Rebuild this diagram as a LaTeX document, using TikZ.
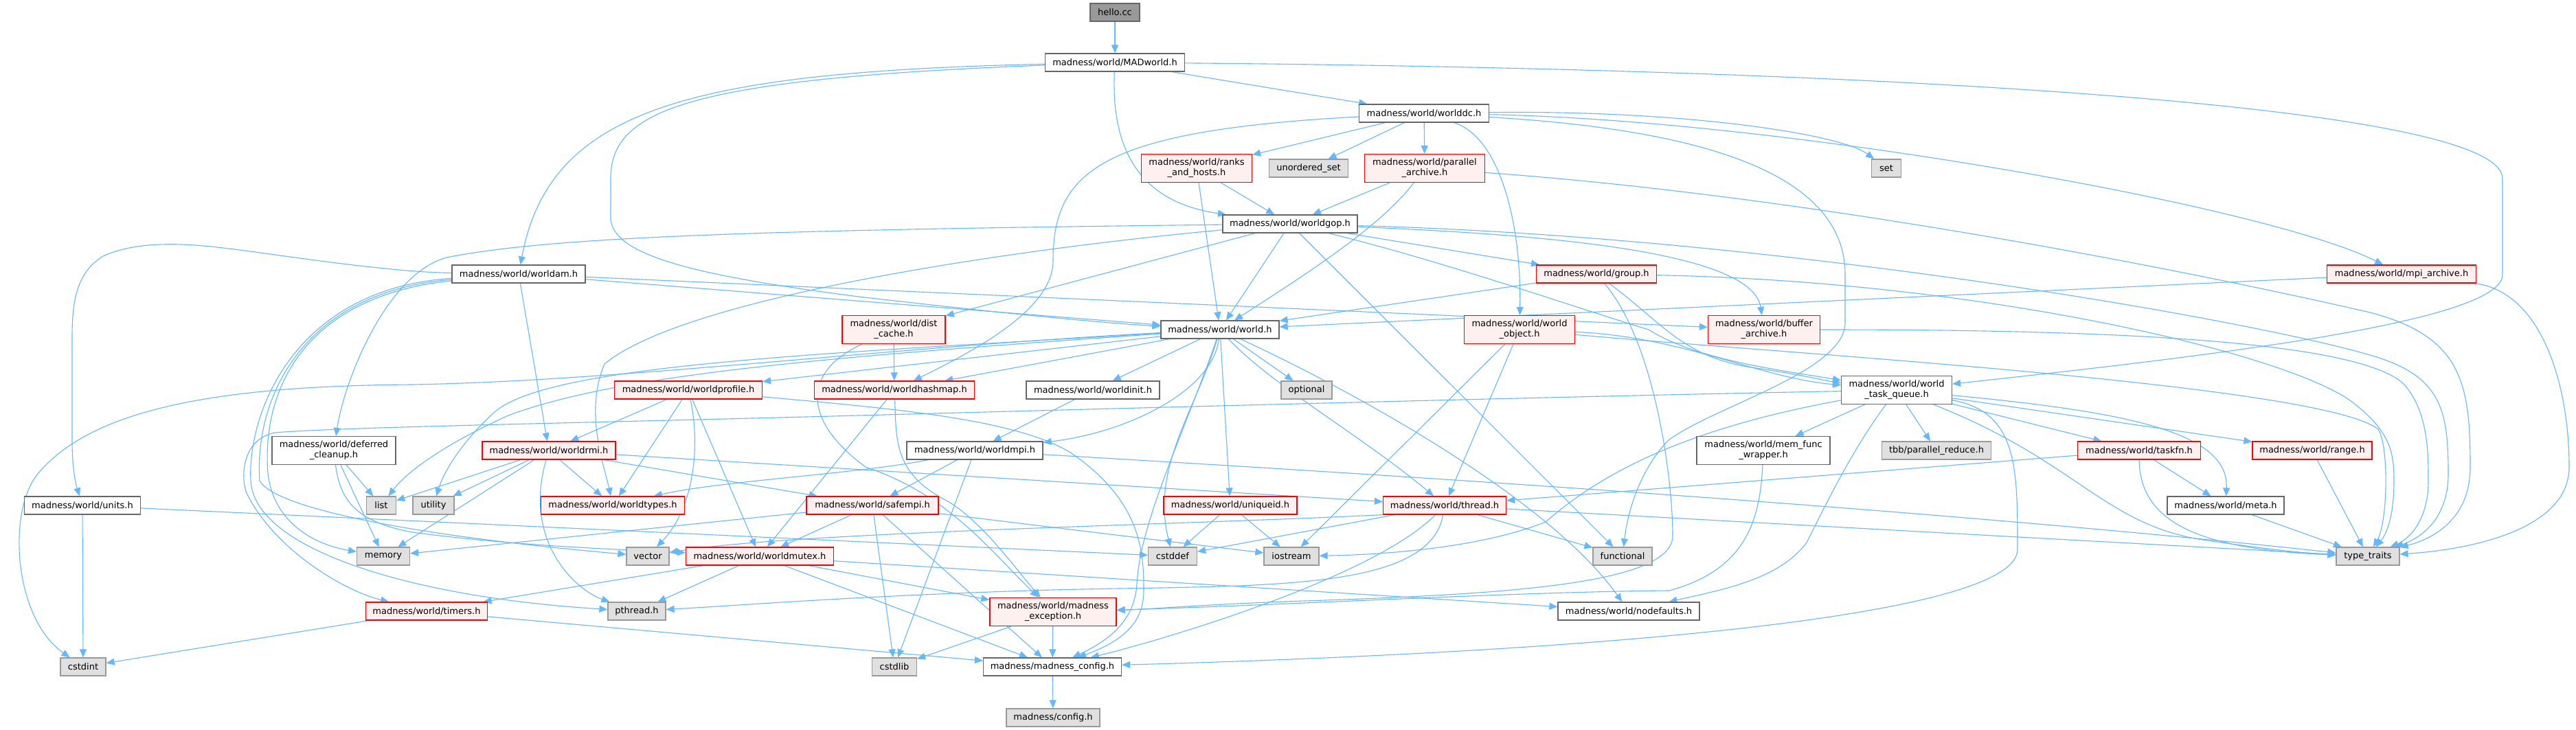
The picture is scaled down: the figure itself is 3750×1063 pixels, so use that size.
\documentclass[tikz,border=0pt]{standalone}
\usepackage{fontspec}
\setmainfont{DejaVu Sans}
\usetikzlibrary{arrows.meta}
\pgfdeclarelayer{bg}
\pgfsetlayers{bg,main}
\definecolor{edgec}{HTML}{63B8FF}
\definecolor{gborder}{HTML}{666666}
\definecolor{xfill}{HTML}{E0E0E0}
\definecolor{xborder}{HTML}{999999}
\definecolor{tfill}{HTML}{FFF0F0}
\definecolor{tborder}{HTML}{FF0000}
\definecolor{curfill}{HTML}{999999}
\newcommand{\nodefnt}{\fontsize{6.5}{7.5}\selectfont}
\begin{document}
\begin{tikzpicture}[x=0.5pt,y=0.5pt,
 nb/.style={line width=0.6pt, inner sep=0pt, minimum height=13pt, align=center, font=\nodefnt, text=black},
 wn/.style={nb, draw=gborder, fill=white},
 gn/.style={nb, draw=xborder, fill=xfill},
 rn/.style={nb, draw=tborder, fill=tfill},
 cn/.style={nb, draw=gborder, fill=curfill},
 two/.style={minimum height=20.5pt},
 ed/.style={draw=edgec, line width=0.55pt, -{Triangle[length=6pt,width=5pt]}}]
\useasboundingbox (0,0) rectangle (3750,-1063);

% ---------- nodes ----------
\node[cn, minimum width=36pt] (hello) at (1623,-18) {hello.cc};
\node[wn, minimum width=101.5pt] (madworld) at (1623,-91) {madness/world/MADworld.h};
\node[wn, minimum width=94.5pt] (worlddc) at (2073,-165) {madness/world/worlddc.h};
\node[rn, two, minimum width=80.5pt] (ranks) at (1742,-245) {madness/world/ranks\\\_and\_hosts.h};
\node[gn, minimum width=57.5pt] (unordset) at (1905,-245) {unordered\_set};
\node[rn, two, minimum width=87.5pt] (parar) at (2074,-245) {madness/world/parallel\\\_archive.h};
\node[gn, minimum width=21.5pt] (set) at (2746,-245) {set};
\node[wn, minimum width=98pt] (worldgop) at (1878,-326) {madness/world/worldgop.h};
\node[wn, minimum width=97pt] (worldam) at (755,-399) {madness/world/worldam.h};
\node[rn, minimum width=87.5pt] (group) at (2324,-399) {madness/world/group.h};
\node[rn, minimum width=108.5pt] (mpiar) at (3496,-399) {madness/world/mpi\_archive.h};
\node[rn, two, minimum width=75pt] (distcache) at (1301,-480) {madness/world/dist\\\_cache.h};
\node[wn, minimum width=86pt] (world) at (1776,-480) {madness/world/world.h};
\node[rn, two, minimum width=80.5pt] (worldobj) at (2212,-480) {madness/world/world\\\_object.h};
\node[rn, two, minimum width=81.5pt] (bufar) at (2568,-480) {madness/world/buffer\\\_archive.h};
\node[rn, minimum width=107.5pt] (worldprofile) at (1002,-568) {madness/world/worldprofile.h};
\node[rn, minimum width=116.5pt] (worldhashmap) at (1302,-568) {madness/world/worldhashmap.h};
\node[wn, minimum width=97pt] (worldinit) at (1591,-568) {madness/world/worldinit.h};
\node[gn, minimum width=37pt] (optional) at (1902,-568) {optional};
\node[wn, two, minimum width=80.5pt] (wtq) at (2761,-568) {madness/world/world\\\_task\_queue.h};
\node[wn, two, minimum width=90pt] (deferred) at (486,-656) {madness/world/deferred\\\_cleanup.h};
\node[rn, minimum width=97pt] (worldrmi) at (799,-656) {madness/world/worldrmi.h};
\node[wn, minimum width=99pt] (worldmpi) at (1419,-656) {madness/world/worldmpi.h};
\node[wn, two, minimum width=97pt] (memfunc) at (2567,-656) {madness/world/mem\_func\\\_wrapper.h};
\node[gn, minimum width=79.5pt] (tbb) at (2819,-656) {tbb/parallel\_reduce.h};
\node[rn, minimum width=89.5pt] (taskfn) at (3114,-656) {madness/world/taskfn.h};
\node[rn, minimum width=87pt] (range) at (3366,-656) {madness/world/range.h};
\node[wn, minimum width=84.5pt] (units) at (120,-736) {madness/world/units.h};
\node[gn, minimum width=21.5pt] (list) at (555,-736) {list};
\node[gn, minimum width=30pt] (utility) at (631,-736) {utility};
\node[rn, minimum width=104.5pt] (worldtypes) at (892,-736) {madness/world/worldtypes.h};
\node[rn, minimum width=96pt] (safempi) at (1270,-736) {madness/world/safempi.h};
\node[rn, minimum width=97pt] (uniqueid) at (1791,-736) {madness/world/uniqueid.h};
\node[rn, minimum width=89.5pt] (thread) at (2103,-736) {madness/world/thread.h};
\node[wn, minimum width=85pt] (meta) at (3240,-736) {madness/world/meta.h};
\node[gn, minimum width=38.5pt] (memory) at (558,-810) {memory};
\node[gn, minimum width=31pt] (vector) at (943,-810) {vector};
\node[rn, minimum width=107.5pt] (worldmutex) at (1106,-810) {madness/world/worldmutex.h};
\node[gn, minimum width=35.5pt] (cstddef) at (1707,-810) {cstddef};
\node[gn, minimum width=40pt] (iostream) at (1880,-810) {iostream};
\node[gn, minimum width=43pt] (functional) at (2362,-810) {functional};
\node[gn, minimum width=46pt] (typetraits) at (3447,-810) {type\_traits};
\node[rn, minimum width=88.5pt] (timers) at (621,-890) {madness/world/timers.h};
\node[gn, minimum width=42pt] (pthread) at (927,-890) {pthread.h};
\node[rn, two, minimum width=92pt] (mexc) at (1533,-891) {madness/world/madness\\\_exception.h};
\node[wn, minimum width=103pt] (nodefaults) at (2371,-890) {madness/world/nodefaults.h};
\node[gn, minimum width=33pt] (cstdint) at (121,-971) {cstdint};
\node[gn, minimum width=32.5pt] (cstdlib) at (1302,-971) {cstdlib};
\node[wn, minimum width=100.5pt] (mconfig) at (1532,-971) {madness/madness\_config.h};
\node[gn, minimum width=68pt] (config) at (1533,-1045) {madness/config.h};

% ---------- edges ----------
\begin{pgfonlayer}{bg}
\fill[white] (0,0) rectangle (3750,-1063);
% hello / MADworld
\draw[ed] (hello) -- (madworld);
\draw[ed] (madworld) -- (worlddc);
\draw[ed] (madworld) .. controls (1615,-260) and (1700,-300) .. (worldgop);
\draw[ed] (madworld) .. controls (1000,-105) and (800,-160) .. (worldam);
\draw[ed] (madworld) .. controls (1000,-115) and (889,-160) .. (889,-260) -- (889,-320) .. controls (895,-370) and (1000,-400) .. (1250,-432) .. controls (1450,-455) and (1600,-470) .. (world);
\draw[ed] (madworld) .. controls (2700,-100) and (3643,-150) .. (3643,-260) -- (3643,-400) .. controls (3643,-470) and (3200,-520) .. (wtq);
% worlddc
\draw[ed] (worlddc) -- (ranks);
\draw[ed] (worlddc) -- (unordset);
\draw[ed] (worlddc) -- (parar);
\draw[ed] (worlddc) .. controls (1600,-190) and (1533,-250) .. (1533,-380) .. controls (1533,-450) and (1420,-510) .. (worldhashmap);
\draw[ed] (worlddc) .. controls (2450,-160) and (2680,-195) .. (set);
\draw[ed] (worlddc) .. controls (2600,-175) and (3300,-300) .. (mpiar);
\draw[ed] (worlddc) .. controls (2185,-200) and (2215,-330) .. (worldobj);
\draw[ed] (worlddc) .. controls (2500,-190) and (2686,-260) .. (2686,-400) -- (2686,-470) .. controls (2686,-540) and (2500,-590) .. (2430,-640) .. controls (2390,-680) and (2370,-740) .. (functional);
% ranks / parallel archive
\draw[ed] (ranks) -- (worldgop);
\draw[ed] (ranks) -- (world);
\draw[ed] (parar) -- (worldgop);
\draw[ed] (parar) .. controls (2010,-330) and (1900,-400) .. (world);
\draw[ed] (parar) .. controls (2700,-290) and (3300,-420) .. (3450,-455) .. controls (3585,-490) and (3596,-560) .. (3596,-680) .. controls (3596,-770) and (3520,-790) .. (typetraits);
% worldgop
\draw[ed] (worldgop) .. controls (1100,-335) and (800,-345) .. (650,-375) .. controls (560,-400) and (500,-560) .. (deferred);
\draw[ed] (worldgop) .. controls (1500,-360) and (1000,-430) .. (880,-530) .. controls (850,-600) and (880,-680) .. (worldtypes);
\draw[ed] (worldgop) -- (distcache);
\draw[ed] (worldgop) -- (world);
\draw[ed] (worldgop) -- (functional);
\draw[ed] (worldgop) -- (group);
\draw[ed] (worldgop) .. controls (2200,-340) and (2550,-360) .. (bufar);
\draw[ed] (worldgop) .. controls (2100,-380) and (2300,-450) .. (2400,-480) .. controls (2470,-525) and (2600,-540) .. (wtq);
\draw[ed] (worldgop) .. controls (2600,-345) and (3300,-470) .. (3460,-520) .. controls (3555,-550) and (3564,-600) .. (3564,-690) .. controls (3564,-770) and (3505,-790) .. (typetraits);
% worldam
\draw[ed] (worldam) -- (worldrmi);
\draw[ed] (worldam) -- (world);
\draw[ed] (worldam) -- (bufar);
\draw[ed] (worldam) .. controls (560,-396) and (400,-370) .. (333,-362) .. controls (270,-354) and (200,-350) .. (150,-373) .. controls (115,-395) and (105,-430) .. (105,-490) -- (105,-640) .. controls (105,-690) and (112,-710) .. (units);
\draw[ed] (worldam) .. controls (450,-430) and (380,-560) .. (390,-690) .. controls (400,-770) and (470,-795) .. (memory);
\draw[ed] (worldam) .. controls (440,-425) and (370,-580) .. (378,-700) .. controls (400,-740) and (600,-780) .. (vector);
\draw[ed] (worldam) .. controls (430,-420) and (360,-600) .. (365,-700) .. controls (370,-800) and (600,-870) .. (pthread);
% world
\draw[ed] (world) .. controls (1300,-505) and (900,-555) .. (600,-560) .. controls (300,-562) and (130,-600) .. (55,-690) .. controls (10,-745) and (20,-900) .. (cstdint);
\draw[ed] (world) .. controls (1200,-515) and (800,-530) .. (720,-600) .. controls (670,-645) and (645,-690) .. (utility);
\draw[ed] (world) .. controls (1200,-520) and (900,-545) .. (740,-605) .. controls (640,-650) and (590,-690) .. (list);
\draw[ed] (world) -- (worldprofile);
\draw[ed] (world) -- (worldhashmap);
\draw[ed] (world) -- (worldinit);
\draw[ed] (world) -- (optional);
\draw[ed] (world) .. controls (1765,-570) and (1640,-630) .. (worldmpi);
\draw[ed] (world) .. controls (1740,-600) and (1675,-680) .. (cstddef);
\draw[ed] (world) .. controls (1850,-560) and (1990,-640) .. (thread);
\draw[ed] (world) -- (uniqueid);
\draw[ed] (world) .. controls (1950,-560) and (2250,-720) .. (nodefaults);
\draw[ed] (world) .. controls (1720,-640) and (1660,-760) .. (1655,-850) .. controls (1652,-900) and (1620,-930) .. (mconfig);
% worldinit / worldmpi
\draw[ed] (worldinit) -- (worldmpi);
\draw[ed] (worldmpi) -- (safempi);
\draw[ed] (worldmpi) .. controls (1250,-690) and (1050,-700) .. (worldtypes);
\draw[ed] (worldmpi) -- (cstdlib);
\draw[ed] (worldmpi) .. controls (2000,-690) and (2800,-740) .. (typetraits);
% dist cache / hashmap
\draw[ed] (distcache) -- (worldhashmap);
\draw[ed] (distcache) .. controls (1170,-540) and (1165,-610) .. (1260,-680) .. controls (1380,-720) and (1440,-800) .. (mexc);
\draw[ed] (worldhashmap) -- (worldmutex);
\draw[ed] (worldhashmap) .. controls (1305,-640) and (1300,-690) .. (1380,-730) .. controls (1430,-760) and (1480,-830) .. (mexc);
% worldprofile
\draw[ed] (worldprofile) -- (worldrmi);
\draw[ed] (worldprofile) -- (worldtypes);
\draw[ed] (worldprofile) .. controls (1020,-650) and (1010,-740) .. (vector);
\draw[ed] (worldprofile) -- (worldmutex);
\draw[ed] (worldprofile) .. controls (1300,-595) and (1480,-610) .. (1560,-660) .. controls (1660,-730) and (1665,-800) .. (1665,-860) .. controls (1665,-910) and (1630,-935) .. (mconfig);
% deferred cleanup
\draw[ed] (deferred) -- (list);
\draw[ed] (deferred) -- (memory);
\draw[ed] (deferred) .. controls (495,-730) and (520,-760) .. (600,-775) .. controls (750,-795) and (900,-800) .. (worldmutex);
% worldrmi
\draw[ed] (worldrmi) -- (list);
\draw[ed] (worldrmi) -- (utility);
\draw[ed] (worldrmi) -- (memory);
\draw[ed] (worldrmi) .. controls (760,-790) and (840,-860) .. (pthread);
\draw[ed] (worldrmi) -- (worldtypes);
\draw[ed] (worldrmi) -- (safempi);
\draw[ed] (worldrmi) -- (thread);
% safempi
\draw[ed] (safempi) -- (memory);
\draw[ed] (safempi) -- (worldmutex);
\draw[ed] (safempi) -- (cstdlib);
\draw[ed] (safempi) -- (mconfig);
\draw[ed] (safempi) -- (iostream);
% worldmutex
\draw[ed] (worldmutex) -- (timers);
\draw[ed] (worldmutex) -- (pthread);
\draw[ed] (worldmutex) -- (mexc);
\draw[ed] (worldmutex) -- (nodefaults);
\draw[ed] (worldmutex) -- (mconfig);
% timers / exception / config
\draw[ed] (timers) -- (cstdint);
\draw[ed] (timers) -- (mconfig);
\draw[ed] (units) -- (cstdint);
\draw[ed] (units) -- (cstddef);
\draw[ed] (mexc) -- (cstdlib);
\draw[ed] (mexc) -- (mconfig);
\draw[ed] (mconfig) -- (config);
% uniqueid / thread
\draw[ed] (uniqueid) -- (cstddef);
\draw[ed] (uniqueid) -- (iostream);
\draw[ed] (thread) -- (cstddef);
\draw[ed] (thread) -- (functional);
\draw[ed] (thread) .. controls (2000,-840) and (1700,-930) .. (mconfig);
\draw[ed] (thread) -- (typetraits);
\draw[ed] (thread.south west) .. controls (1700,-765) and (1150,-775) .. (vector);
\draw[ed] (thread) .. controls (2080,-870) and (1800,-850) .. (1500,-860) .. controls (1250,-868) and (1100,-880) .. (pthread);
% taskfn / range / meta / mem_func
\draw[ed] (taskfn) -- (thread);
\draw[ed] (taskfn) -- (meta);
\draw[ed] (taskfn) .. controls (3115,-760) and (3200,-800) .. (typetraits);
\draw[ed] (range) -- (typetraits);
\draw[ed] (meta) -- (typetraits);
\draw[ed] (memfunc) .. controls (2562,-760) and (2540,-830) .. (2430,-860) .. controls (2200,-862) and (1900,-880) .. (mexc);
% world_task_queue
\draw[ed] (wtq) -- (memfunc);
\draw[ed] (wtq) -- (tbb);
\draw[ed] (wtq) -- (taskfn);
\draw[ed] (wtq) -- (range);
\draw[ed] (wtq) .. controls (3100,-600) and (3245,-630) .. (meta);
\draw[ed] (wtq) .. controls (3020,-670) and (3060,-760) .. (3200,-785) .. controls (3300,-800) and (3360,-806) .. (typetraits);
\draw[ed] (wtq) .. controls (2937,-600) and (2937,-680) .. (2937,-800) .. controls (2937,-900) and (2300,-950) .. (mconfig);
\draw[ed] (wtq) .. controls (2700,-650) and (2665,-720) .. (2630,-790) .. controls (2590,-845) and (2500,-860) .. (nodefaults);
\draw[ed] (wtq) .. controls (2300,-577) and (1800,-590) .. (1250,-605) .. controls (800,-617) and (500,-622) .. (400,-630) .. controls (350,-640) and (350,-700) .. (360,-720) .. controls (400,-800) and (500,-860) .. (timers);
\draw[ed] (wtq) .. controls (2450,-625) and (2330,-690) .. (2250,-760) .. controls (2150,-800) and (2000,-808) .. (iostream);
% world_object
\draw[ed] (worldobj) .. controls (2450,-490) and (2560,-550) .. (wtq);
\draw[ed] (worldobj) -- (thread);
\draw[ed] (worldobj) -- (iostream);
\draw[ed] (worldobj) .. controls (2600,-515) and (3380,-560) .. (3462,-625) .. controls (3478,-650) and (3476,-760) .. (typetraits);
% group
\draw[ed] (group) -- (world);
\draw[ed] (group) .. controls (2420,-470) and (2450,-520) .. (2550,-535) .. controls (2620,-545) and (2660,-555) .. (wtq);
\draw[ed] (group) .. controls (2900,-410) and (3350,-520) .. (3430,-590) .. controls (3480,-630) and (3485,-660) .. (3485,-700) .. controls (3485,-765) and (3468,-785) .. (typetraits);
\draw[ed] (group) .. controls (2410,-500) and (2435,-700) .. (2435,-780) .. controls (2435,-850) and (2200,-865) .. (1900,-875) .. controls (1750,-880) and (1680,-887) .. (mexc);
% mpi archive / buffer archive
\draw[ed] (mpiar) -- (world);
\draw[ed] (mpiar) .. controls (3700,-425) and (3740,-560) .. (3740,-680) .. controls (3740,-770) and (3600,-800) .. (typetraits);
\draw[ed] (bufar) .. controls (3000,-480) and (3430,-490) .. (3500,-560) .. controls (3535,-600) and (3535,-660) .. (3535,-700) .. controls (3535,-770) and (3495,-790) .. (typetraits);
\end{pgfonlayer}
\end{tikzpicture}
\end{document}
